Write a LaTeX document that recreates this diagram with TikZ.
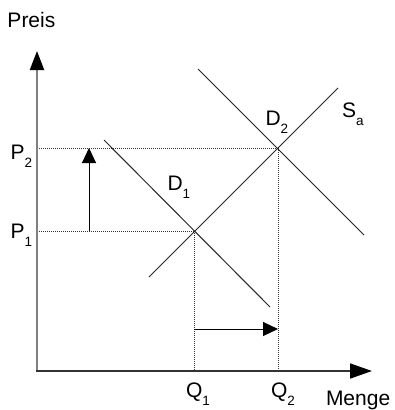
\documentclass[tikz,border=0pt]{standalone}
\usepackage{fontspec}
\setmainfont{Liberation Sans}
\usetikzlibrary{arrows.meta}
\newcommand{\sbs}[1]{\raisebox{-8pt}{\fontsize{13.5}{15}\selectfont #1}}
\begin{document}
\begin{tikzpicture}[x=1pt,y=-1pt,
  lbl/.style={anchor=base west,inner sep=0pt,outer sep=0pt,font=\fontsize{21}{24}\selectfont},
  curve/.style={line width=1pt,draw=black!85},
  guide/.style={line width=0.9pt,draw=black!80,dash pattern=on 1pt off 1pt},
  yax/.style={line width=2pt,draw=black!50,-{Triangle[length=19pt,width=14pt,color=black]}},
  xax/.style={line width=1.6pt,draw=black!80,-{Triangle[length=22pt,width=15pt,color=black]}},
  shiftarrow/.style={line width=1pt,draw=black,-{Triangle[length=15pt,width=14pt]}}]
\useasboundingbox (0,0) rectangle (395,410);
\fill[white] (0,0) rectangle (395,410);
% key points
\coordinate (O) at (37,371);
\coordinate (ytip) at (37,51);
\coordinate (xtip) at (372,371);
\coordinate (E1) at (194,231);
\coordinate (E2) at (278,148);
\coordinate (p1) at (37,231);
\coordinate (p2) at (37,148);
\coordinate (q1) at (194,371);
\coordinate (q2) at (278,371);
\coordinate (sA) at (149,277);
\coordinate (sB) at (338,88);
\coordinate (dA) at (104,140);
\coordinate (dB) at (270,307);
\coordinate (eA) at (198,69);
\coordinate (eB) at (364,235);
\coordinate (vA) at (89,231);
\coordinate (vB) at (89,148);
\coordinate (hA) at (194,329);
\coordinate (hB) at (278,329);
% guides
\draw[guide] (p2) -- (E2);
\draw[guide] (p1) -- (E1);
\draw[guide] (E1) -- (q1);
\draw[guide] (E2) -- (q2);
% curves
\draw[curve] (sA) -- (sB);
\draw[curve] (dA) -- (dB);
\draw[curve] (eA) -- (eB);
% axes
\draw[yax] (O) -- (ytip);
\draw[xax] ([xshift=-1pt]O) -- (xtip);
% shift arrows
\draw[shiftarrow] (vA) -- (vB);
\draw[shiftarrow] (hA) -- (hB);
% labels
\node[lbl] (preis) at (7.5,27) {Preis};
\node[lbl] (lp2) at (10.5,159) {P\sbs{2}};
\node[lbl] (lp1) at (10.5,238) {P\sbs{1}};
\node[lbl] (lq1) at (186,397) {Q\sbs{1}};
\node[lbl] (lq2) at (271,397) {Q\sbs{2}};
\node[lbl] (menge) at (326,405) {Menge};
\node[lbl] (ld1) at (167.5,190) {D\sbs{1}};
\node[lbl] (ld2) at (265.5,125) {D\sbs{2}};
\node[lbl] (lsa) at (342,117) {S\sbs{a}};
\end{tikzpicture}
\end{document}
